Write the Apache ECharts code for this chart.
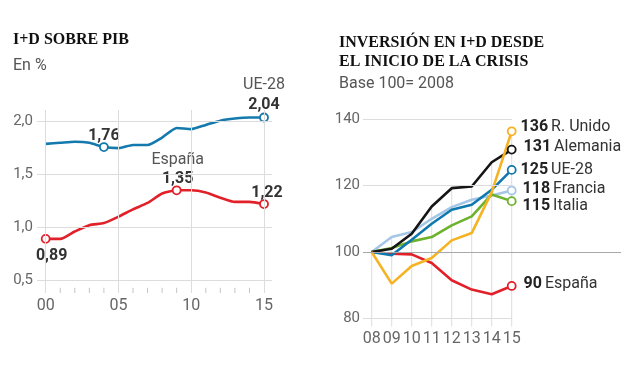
<!DOCTYPE html>
<html><head><meta charset="utf-8">
<script src="https://cdn.jsdelivr.net/npm/echarts@6/dist/echarts.min.js"></script>
<style>html,body{margin:0;padding:0;background:#fff}#c{width:637px;height:366px}</style>
</head><body><div id="c"></div>
<script>
// ---- Left chart data: I+D sobre PIB (%) ----
const yearsA = [0,1,2,3,4,5,6,7,8,9,10,11,12,13,14,15];
const xLabelYearsA = [0,5,10,15];
const minorYearsA = [1,2,3,4,6,7,8,9,11,12,13,14];
const yTicksA = [0.5,1.0,1.5,2.0];
const ue28Pib   = [1.79,1.80,1.81,1.80,1.76,1.75,1.78,1.78,1.85,1.94,1.93,1.97,2.01,2.03,2.04,2.04];
const espanaPib = [0.89,0.89,0.96,1.02,1.04,1.10,1.17,1.23,1.32,1.35,1.35,1.33,1.28,1.24,1.24,1.22];

// ---- Right chart data: Inversión en I+D, base 100 = 2008 ----
const yearsB = [8,9,10,11,12,13,14,15];
const yTicksB = [80,100,120,140];
const rUnido    = [100,90.5,95.8,98.2,103.5,105.7,118.0,136.3];
const alemania  = [100,101.0,105.5,113.7,119.2,119.7,127.0,130.8];
const ue28Idx   = [100,99.0,103.7,108.5,112.7,114.2,118.7,124.7];
const francia   = [100,104.5,106.0,110.0,113.5,115.7,117.0,118.5];
const italia    = [100,101.2,103.2,104.5,108.0,110.7,117.3,115.3];
const espanaIdx = [100,99.5,99.3,96.7,91.5,88.7,87.3,89.8];
const endValues = ['136','131','125','118','115','90'];
const endNames  = ['R. Unido','Alemania','UE-28','Francia','Italia','España'];

const FONT = 'Roboto';
const pad2 = v => String(Math.round(v)).padStart(2,'0');
const comma = (v,d) => v.toFixed(d).replace('.',',');

// left axis extents (layout)
const AX = {min:-0.596, max:15.55};
const AY = {min:0.377, max:2.111};
const TICK_LEN = 0.05; // ~5px in y units of the left grid

function marker(color){
  return {symbol:'circle', symbolSize:8, itemStyle:{color:'#fff', borderColor:color, borderWidth:1.8}};
}

// left chart annotated points
function leftData(ys, color, notes){
  return ys.map((v,i)=>{
    const item = {value:[yearsA[i], v], symbol:'none'};
    if (notes[i]) {
      Object.assign(item, marker(color));
      item.label = Object.assign({show:true, fontFamily:FONT}, notes[i]);
    }
    return item;
  });
}
const boldLbl = {fontWeight:'bold', fontSize:16, color:'#333', fontFamily:FONT};
const nameLbl = {fontWeight:'normal', fontSize:16, color:'#555', fontFamily:FONT};

const ueNotes = {};
ueNotes[4]  = {position:'top', distance:1, offset:[0,3], formatter: comma(ue28Pib[4],2), ...boldLbl};
ueNotes[15] = {position:'top', distance:1, offset:[0,3], formatter: '{n|UE-28}\n{b|' + comma(ue28Pib[15],2) + '}',
  rich:{n:Object.assign({lineHeight:20}, nameLbl), b:Object.assign({lineHeight:20}, boldLbl)}};
const esNotes = {};
esNotes[0]  = {position:'bottom', distance:2, offset:[6,2], formatter: comma(espanaPib[0],2), ...boldLbl};
esNotes[9]  = {position:'top', distance:0, offset:[1,4], formatter: '{n|España}\n{b|' + comma(espanaPib[9],2) + '}',
  rich:{n:Object.assign({lineHeight:19}, nameLbl), b:Object.assign({lineHeight:20}, boldLbl)}};
esNotes[15] = {position:'top', distance:0, offset:[3,2], formatter: comma(espanaPib[15],2), ...boldLbl};

// right chart series config
const rightSeries = [
  {name:'Francia',  data:francia,   color:'#A6C6E6', idx:3, off:[0,-1.5], dist:6},
  {name:'Italia',   data:italia,    color:'#6DB22C', idx:4, off:[0,4.6],  dist:6},
  {name:'España',   data:espanaIdx, color:'#E2202A', idx:5, off:[0,-1.6], dist:7},
  {name:'UE-28',    data:ue28Idx,   color:'#0F78AE', idx:2, off:[0,0],    dist:4},
  {name:'Alemania', data:alemania,  color:'#151515', idx:1, off:[0,-2.5], dist:7},
  {name:'R. Unido', data:rUnido,    color:'#F5B324', idx:0, off:[0,-4.6], dist:4},
];
const dropMax = yearsB.map((x,i)=>[x, Math.max(rUnido[i],alemania[i],ue28Idx[i],francia[i],italia[i],espanaIdx[i])]);

const gridLineStyle = {color:'#dcdcdc', width:1, type:'solid'};

const option = {
  animation:false,
  backgroundColor:'#fff',
  textStyle:{fontFamily:FONT},
  title:[
    {text:'I+D SOBRE PIB', left:13, top:32, padding:0,
     textStyle:{fontFamily:'Liberation Serif', fontWeight:'bold', fontSize:16, color:'#111'}},
    {text:'En %', left:13, top:58, padding:0,
     textStyle:{fontFamily:FONT, fontWeight:'normal', fontSize:16, color:'#555'}},
    {text:'INVERSIÓN EN I+D DESDE\nEL INICIO DE LA CRISIS', left:339, top:34, padding:0,
     textStyle:{fontFamily:'Liberation Serif', fontWeight:'bold', fontSize:16, lineHeight:18.5, color:'#111'}},
    {text:'Base 100= 2008', left:339, top:76, padding:0,
     textStyle:{fontFamily:FONT, fontWeight:'normal', fontSize:16, color:'#555'}},
  ],
  grid:[
    {left:37, top:110, width:235, height:183},
    {left:363, top:119, width:149, height:207.5},
    {left:363, top:119, width:258, height:207.5},
  ],
  xAxis:[
    {gridIndex:0, type:'value', min:AX.min, max:AX.max,
     axisLine:{show:false}, splitLine:{show:false}, axisTick:{show:false},
     axisLabel:{customValues:xLabelYearsA, formatter:pad2, margin:5, fontSize:16, color:'#666', fontFamily:FONT}},
    {gridIndex:1, type:'value', min:7.565, max:15.015,
     axisLine:{show:false}, splitLine:{show:false}, axisTick:{show:false},
     axisLabel:{customValues:yearsB, formatter:pad2, margin:4, fontSize:16, color:'#666', fontFamily:FONT}},
    {gridIndex:2, type:'value', min:0, max:1, show:false},
  ],
  yAxis:[
    {gridIndex:0, type:'value', min:AY.min, max:AY.max,
     axisLine:{show:false}, axisTick:{show:false}, splitLine:{show:false},
     axisLabel:{customValues:yTicksA, formatter:v=>comma(v,1), margin:4, fontSize:15, color:'#666', fontFamily:FONT}},
    {gridIndex:1, type:'value', min:77.6, max:140,
     axisLine:{show:false}, axisTick:{show:false}, splitLine:{show:false},
     axisLabel:{customValues:yTicksB, margin:3, fontSize:15, color:'#666', fontFamily:FONT}},
    {gridIndex:2, type:'value', min:77.6, max:140, show:false},
  ],
  series:[
    // left grid lines
    {type:'line', xAxisIndex:0, yAxisIndex:0, data:[], z:1, silent:true,
     markLine:{silent:true, symbol:['none','none'], label:{show:false}, lineStyle:gridLineStyle,
       data:[...yTicksA.map(v=>({yAxis:v})), ...xLabelYearsA.map(v=>({xAxis:v}))]}},
    // left minor year ticks (thin bars rising from the bottom edge)
    {type:'bar', xAxisIndex:0, yAxisIndex:0, z:1, barWidth:1, silent:true,
     itemStyle:{color:'#c4c4c4'}, data:minorYearsA.map(x=>[x, AY.min + TICK_LEN])},
    // left lines
    {type:'line', xAxisIndex:0, yAxisIndex:0, z:3, smooth:0.2, lineStyle:{width:2.6, color:'#1479AC'},
     itemStyle:{color:'#1479AC'}, data:leftData(ue28Pib,'#1479AC',ueNotes)},
    {type:'line', xAxisIndex:0, yAxisIndex:0, z:3, smooth:0.2, lineStyle:{width:2.6, color:'#E2202A'},
     itemStyle:{color:'#E2202A'}, data:leftData(espanaPib,'#E2202A',esNotes)},
    // right grid lines
    {type:'line', xAxisIndex:1, yAxisIndex:1, data:[], z:1, silent:true,
     markLine:{silent:true, symbol:['none','none'], label:{show:false}, lineStyle:gridLineStyle,
       data:yTicksB.filter(v=>v!==100).map(v=>({yAxis:v}))}},
    {type:'line', xAxisIndex:2, yAxisIndex:2, data:[], z:1, silent:true,
     markLine:{silent:true, symbol:['none','none'], label:{show:false}, lineStyle:{color:'#a8a8a8', width:1, type:'solid'},
       data:[{yAxis:100}]}},
    // right drop lines from the highest value each year
    {type:'bar', xAxisIndex:1, yAxisIndex:1, z:1, barWidth:1, silent:true,
     itemStyle:{color:'#dcdcdc'}, data:dropMax},
    // right lines
    ...rightSeries.map(s=>({
      type:'line', name:s.name, xAxisIndex:1, yAxisIndex:1, z:3,
      lineStyle:{width:2.6, color:s.color}, itemStyle:{color:s.color},
      data: s.data.map((v,i)=>{
        const item = {value:[yearsB[i], v], symbol:'none'};
        if (i === s.data.length-1) {
          Object.assign(item, marker(s.color));
          item.label = {show:true, position:'right', distance:s.dist, offset:s.off,
            formatter:'{b|' + endValues[s.idx] + '} {n|' + endNames[s.idx] + '}',
            rich:{b:{fontWeight:'bold', fontSize:16, color:'#222', fontFamily:FONT},
                  n:{fontSize:16, color:'#333', fontFamily:FONT}}};
        }
        return item;
      })
    }))
  ]
};
const chart = echarts.init(document.getElementById('c'), null, {renderer:'canvas'});
chart.setOption(option);
</script></body></html>
